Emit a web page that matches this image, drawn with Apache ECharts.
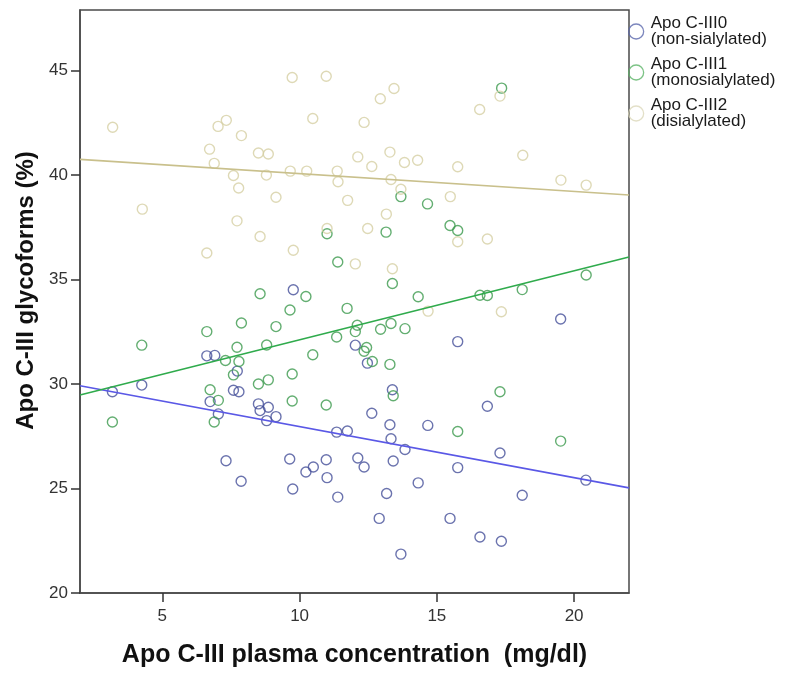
<!DOCTYPE html>
<html>
<head>
<meta charset="utf-8">
<script src="https://cdn.jsdelivr.net/npm/echarts@6/dist/echarts.min.js"></script>
<style>
    html, body { margin: 0; padding: 0; background: #fff; }
    #chart { width: 787px; height: 673px; }
</style>
</head>
<body>
<div id="chart"></div>
<script>
// values: [plasma concentration (mg/dl), glycoform (%)]
const nonSialylated = [
    [3.18, 29.63], [4.25, 29.95], [6.62, 31.35], [6.91, 31.37], [6.74, 29.16], [7.04, 28.57],
    [7.32, 26.33], [7.59, 29.70], [7.73, 30.62], [7.79, 29.63], [7.87, 25.35], [8.50, 29.05],
    [8.56, 28.73], [8.86, 28.89], [8.80, 28.25], [9.14, 28.44], [9.64, 26.41], [9.75, 24.98],
    [9.77, 34.51], [10.23, 25.79], [10.50, 26.03], [10.97, 26.38], [11.00, 25.52], [11.35, 27.70],
    [11.39, 24.59], [11.74, 27.75], [12.03, 31.86], [12.12, 26.46], [12.35, 26.03], [12.47, 31.00],
    [12.63, 28.60], [12.90, 23.57], [13.17, 24.76], [13.29, 28.05], [13.33, 27.38], [13.38, 29.73],
    [13.41, 26.32], [13.69, 21.86], [13.84, 26.87], [14.32, 25.27], [14.67, 28.02], [15.48, 23.57],
    [15.76, 26.00], [15.76, 32.03], [16.57, 22.68], [16.84, 28.94], [17.30, 26.70], [17.35, 22.48],
    [18.11, 24.68], [19.51, 33.11], [20.43, 25.40]
];

const monoSialylated = [
    [3.18, 28.18], [4.25, 31.86], [6.62, 32.51], [6.74, 29.73], [6.89, 28.18], [7.04, 29.22],
    [7.30, 31.13], [7.59, 30.44], [7.72, 31.76], [7.79, 31.08], [7.88, 32.92], [8.50, 30.00],
    [8.56, 34.32], [8.80, 31.87], [8.86, 30.20], [9.14, 32.75], [9.65, 33.54], [9.73, 30.48],
    [9.73, 29.19], [10.23, 34.19], [10.48, 31.40], [10.97, 29.00], [11.00, 37.19], [11.35, 32.25],
    [11.39, 35.84], [11.73, 33.62], [12.03, 32.51], [12.10, 32.81], [12.35, 31.57], [12.44, 31.75],
    [12.65, 31.08], [12.95, 32.62], [13.15, 37.27], [13.29, 30.94], [13.33, 32.90], [13.38, 34.81],
    [13.41, 29.44], [13.69, 38.97], [13.84, 32.65], [14.32, 34.18], [14.66, 38.62], [15.48, 37.59],
    [15.76, 37.35], [15.76, 27.73], [16.57, 34.25], [16.84, 34.24], [17.30, 29.63], [17.36, 44.16],
    [18.11, 34.52], [19.51, 27.27], [20.44, 35.22]
];

const diSialylated = [
    [3.19, 42.29], [4.27, 38.37], [6.62, 36.27], [6.72, 41.24], [6.89, 40.56], [7.03, 42.33],
    [7.33, 42.62], [7.59, 39.98], [7.72, 37.81], [7.78, 39.38], [7.88, 41.89], [8.50, 41.06],
    [8.56, 37.06], [8.79, 40.00], [8.86, 41.01], [9.14, 38.94], [9.66, 40.19], [9.73, 44.67],
    [9.77, 36.40], [10.26, 40.19], [10.48, 42.71], [10.97, 44.73], [11.00, 37.44], [11.37, 40.19],
    [11.40, 39.68], [11.75, 38.79], [12.03, 35.75], [12.12, 40.87], [12.35, 42.52], [12.48, 37.44],
    [12.63, 40.41], [12.94, 43.65], [13.16, 38.13], [13.29, 41.10], [13.33, 39.79], [13.38, 35.52],
    [13.44, 44.14], [13.69, 39.32], [13.82, 40.60], [14.30, 40.71], [14.68, 33.49], [15.49, 38.97],
    [15.76, 40.40], [15.76, 36.81], [16.56, 43.14], [16.84, 36.94], [17.30, 43.78], [17.35, 33.46],
    [18.13, 40.95], [19.52, 39.76], [20.44, 39.52]
];

// fit lines, end points read at the frame edges
const nonSialylatedFit = [[2, 29.92], [22, 25.03]];
const monoSialylatedFit = [[2, 29.48], [22, 36.08]];
const diSialylatedFit = [[2, 40.75], [22, 39.05]];

const seriesNames = ['Apo C-III0', 'Apo C-III1', 'Apo C-III2'];
const seriesSubNames = ['(non-sialylated)', '(monosialylated)', '(disialylated)'];

const xTicks = [5, 10, 15, 20];
const yTicks = [20, 25, 30, 35, 40, 45];

const font = 'Liberation Sans, Arial, sans-serif';
const pointColors = ['#46509a', '#3c9a4e', '#d6d0a4'];
const lineColors = ['#5a58e6', '#2fab4c', '#c9c08c'];
const legendColors = ['#5b68ac', '#5cb468', '#dcd8ba'];

function scatter_series(name, data, color) {
    return {
        name: name,
        type: 'scatter',
        data: data,
        symbol: 'circle',
        symbolSize: 10,
        itemStyle: {
            color: 'transparent',
            borderColor: color,
            borderWidth: 1.4
        },
        emphasis: { disabled: true }
    };
}

function fit_series(name, data, color) {
    return {
        name: name,
        type: 'line',
        data: data,
        showSymbol: false,
        lineStyle: { color: color, width: 1.6 },
        emphasis: { disabled: true },
        z: 3
    };
}

var option = {
    animation: false,
    grid: {
        left: 80,
        top: 10,
        width: 549,
        height: 585,
        show: true,
        borderColor: '#4a4a4a',
        borderWidth: 1.5
    },
    legend: {
        orient: 'vertical',
        left: 628,
        top: 15,
        padding: 0,
        itemWidth: 15,
        itemHeight: 15,
        itemGap: 8,
        selectedMode: false,
        data: seriesNames.map(function (name, i) {
            return {
                name: name,
                itemStyle: { color: 'transparent', borderColor: legendColors[i], borderWidth: 1.3 }
            };
        }),
        formatter: function (name) {
            return name + '\n' + seriesSubNames[seriesNames.indexOf(name)];
        },
        textStyle: {
            fontFamily: font,
            fontSize: 17,
            lineHeight: 16,
            color: '#1a1a1a',
            padding: [0, 0, 0, 2]
        }
    },
    xAxis: {
        type: 'value',
        min: 2,
        max: 22,
        name: 'Apo C-III plasma concentration  (mg/dl)',
        nameLocation: 'middle',
        nameGap: 50,
        nameTextStyle: {
            fontFamily: font,
            fontSize: 25,
            fontWeight: 'bold',
            color: '#111'
        },
        axisLine: { lineStyle: { color: '#4a4a4a', width: 1.5 } },
        axisTick: {
            customValues: xTicks,
            length: 9,
            lineStyle: { color: '#333', width: 1.5 }
        },
        axisLabel: {
            customValues: xTicks,
            margin: 15,
            fontFamily: font,
            fontSize: 17,
            color: '#333'
        },
        splitLine: { show: false }
    },
    yAxis: {
        type: 'value',
        min: 20,
        max: 47.9,
        name: 'Apo C-III glycoforms (%)',
        nameLocation: 'middle',
        nameRotate: 90,
        nameGap: 42,
        nameTextStyle: {
            fontFamily: font,
            fontSize: 24,
            fontWeight: 'bold',
            color: '#111',
            padding: [0, 0, 0, 22]
        },
        axisLine: { lineStyle: { color: '#4a4a4a', width: 1.5 } },
        axisTick: {
            customValues: yTicks,
            length: 9,
            lineStyle: { color: '#333', width: 1.5 }
        },
        axisLabel: {
            customValues: yTicks,
            margin: 12,
            fontFamily: font,
            fontSize: 17,
            color: '#333'
        },
        splitLine: { show: false }
    },
    series: [
        scatter_series(seriesNames[0], nonSialylated, pointColors[0]),
        scatter_series(seriesNames[1], monoSialylated, pointColors[1]),
        scatter_series(seriesNames[2], diSialylated, pointColors[2]),
        fit_series('fit0', nonSialylatedFit, lineColors[0]),
        fit_series('fit1', monoSialylatedFit, lineColors[1]),
        fit_series('fit2', diSialylatedFit, lineColors[2])
    ]
};

var scatterChart = echarts.init(document.getElementById('chart'));
scatterChart.setOption(option);
</script>
</body>
</html>
